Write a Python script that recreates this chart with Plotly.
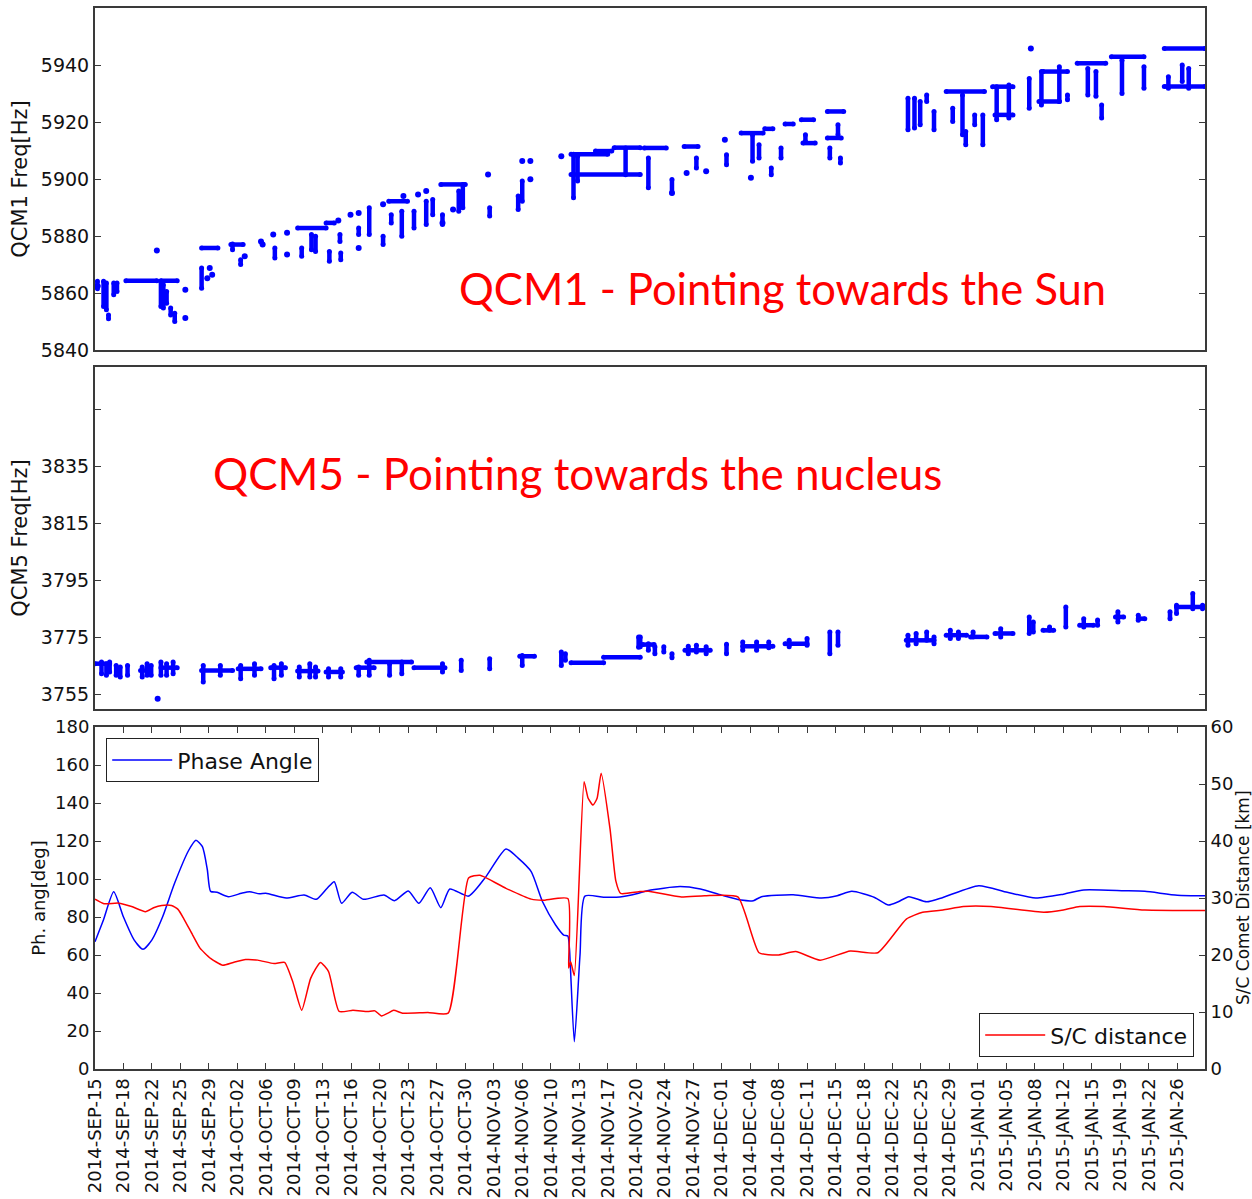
import pandas as pd
import plotly.graph_objects as go

START = pd.Timestamp("2014-09-15")
X_END_DAY = 136.4

# ---------------- bottom panel: phase angle (deg) and S/C distance (km) -------------
PHASE_DAY = [0.0, 1.0, 2.3, 3.5, 4.8, 5.9, 7.0, 8.3, 9.8, 11.5, 12.4, 13.2, 13.8, 14.2,
             15.0, 16.4, 18.0, 19.0, 20.2, 21.0, 23.5, 25.7, 27.2, 28.5, 29.4, 30.3, 31.6,
             33.0, 35.5, 36.8, 38.5, 39.8, 41.2, 42.5, 43.6, 45.9, 48.0, 50.5, 52.0, 53.6,
             55.0, 56.6, 57.6, 58.1, 58.3, 58.9, 59.6, 60.2, 62.5, 64.5, 66.8, 68.0, 71.9,
             74.4, 77.0, 79.4, 80.9, 81.9, 85.8, 89.3, 91.2, 93.0, 95.8, 97.5, 98.7, 100.0,
             102.2, 104.2, 108.6, 112.1, 115.6, 119.0, 121.5, 126.5, 129.0, 133.0, 136.4]
PHASE_DEG = [67.0, 78.0, 93.3, 80.0, 68.0, 63.0, 68.0, 80.0, 98.0, 115.0, 120.4, 117.0, 105.0, 93.5,
             93.0, 90.7, 92.5, 93.3, 92.2, 92.5, 90.0, 91.6, 89.3, 95.0, 98.6, 87.2, 93.0,
             89.3, 91.6, 88.6, 93.7, 87.2, 95.4, 84.9, 94.7, 91.0, 101.0, 115.8, 111.0, 103.9,
             88.0, 75.8, 70.5, 70.0, 63.5, 14.4, 60.0, 91.0, 90.4, 90.5, 92.5, 94.0, 96.0,
             94.7, 91.5, 88.9, 88.6, 90.7, 91.7, 90.0, 91.2, 93.5, 90.3, 86.3, 88.0, 90.7,
             88.0, 90.3, 96.5, 93.0, 90.0, 92.0, 94.2, 93.8, 93.5, 91.5, 91.2]

DIST_DAY = [0.0, 1.1, 2.9, 4.5, 6.2, 7.2, 8.2, 9.4, 10.2, 10.9, 12.0, 12.9, 14.2, 15.7,
            17.0, 18.5, 20.0, 22.0, 23.3, 24.3, 25.4, 26.5, 27.7, 28.7, 30.0, 31.7, 33.5,
            34.4, 35.2, 36.0, 36.7, 37.8, 40.9, 43.4, 45.9, 47.3, 50.5, 53.6, 55.0, 58.1,
            58.2, 58.45, 58.9, 60.1, 60.6, 61.2, 61.7, 62.2, 63.3, 64.0, 64.6, 66.8, 68.0,
            71.9, 74.9, 79.0, 81.6, 83.9, 86.1, 89.1, 92.8, 96.2, 99.7, 101.7, 104.2, 106.7,
            110.1, 116.6, 119.0, 121.0, 124.0, 129.0, 136.4]
DIST_KM = [29.8, 29.0, 29.1, 28.5, 27.6, 28.3, 28.7, 28.7, 28.0, 26.4, 23.5, 21.2, 19.4, 18.2,
           18.7, 19.2, 19.1, 18.5, 18.7, 15.3, 10.3, 15.9, 18.7, 17.1, 10.1, 10.3, 10.1,
           10.2, 9.3, 9.8, 10.3, 9.8, 9.9, 9.8, 33.5, 34.0, 31.7, 29.8, 29.6, 29.9,
           17.7, 18.8, 16.4, 50.4, 47.5, 46.3, 47.5, 51.9, 42.0, 33.0, 30.8, 31.1, 31.2,
           30.2, 30.4, 30.2, 20.4, 20.0, 20.6, 19.1, 20.7, 20.4, 26.3, 27.5, 27.9, 28.5,
           28.5, 27.5, 27.9, 28.5, 28.5, 27.9, 27.8]

# ---------------- top panel: QCM1 frequency (Hz) ----------------
QCM1_BAND_START = [0.0, 3.8, 8.1, 13.1, 16.7, 24.9, 28.4, 36.1, 42.5, 58.5, 58.5, 61.5, 63.8,
                   67.5, 72.4, 79.4, 82.3, 84.8, 86.8, 87.0, 90.0, 90.0, 104.6, 110.3, 110.6,
                   116.0, 116.5, 120.7, 124.9, 131.4, 131.4]
QCM1_BAND_END = [0.4, 7.6, 10.1, 15.1, 18.2, 28.4, 29.4, 38.4, 45.5, 63.0, 67.0, 63.5, 67.0,
                 70.2, 74.1, 82.1, 83.3, 85.8, 88.3, 88.5, 92.0, 91.7, 109.3, 112.8, 112.8,
                 118.5, 119.5, 124.2, 128.9, 136.4, 136.4]
QCM1_BAND_FREQ = [5862.5, 5864.3, 5864.3, 5875.8, 5877.0, 5882.8, 5884.6, 5892.2, 5898.1, 5908.7,
                  5901.6, 5909.8, 5911.0, 5910.9, 5911.4, 5916.1, 5917.6, 5919.3, 5920.8, 5912.6,
                  5923.7, 5914.4, 5930.7, 5932.4, 5922.5, 5927.2, 5937.7, 5940.6, 5942.9,
                  5945.8, 5932.5]

QCM1_SPREAD_DAY = [0.3, 1.05, 1.4, 1.66, 2.3, 2.7, 8.1, 8.4, 8.8, 9.3, 9.8, 13.1, 16.9, 17.9,
                   22.1, 25.4, 26.6, 27.1, 28.8, 30.1, 30.2, 32.4, 33.7, 35.4, 36.4, 37.7,
                   39.2, 40.7, 41.5, 42.7, 44.7, 45.2, 48.5, 52.0, 52.5, 58.8, 59.3, 65.2,
                   68.0, 70.9, 73.9, 77.6, 80.8, 81.6, 83.1, 84.3, 87.3, 90.3, 91.3, 91.6,
                   99.9, 100.7, 101.4, 102.2, 103.1, 105.4, 106.6, 107.0, 108.1, 109.1, 110.8,
                   112.3, 114.8, 116.3, 118.5, 119.5, 122.0, 123.0, 123.7, 126.2, 128.9,
                   131.9, 133.6, 134.4]
QCM1_SPREAD_LO = [5861.5, 5855.3, 5854.1, 5851.0, 5859.4, 5860.5, 5855.3, 5854.7, 5856.4, 5852.3,
                  5850.0, 5861.7, 5875.2, 5870.0, 5872.3, 5872.9, 5875.2, 5874.6, 5871.1,
                  5878.1, 5871.7, 5880.5, 5880.5, 5877.0, 5884.6, 5879.9, 5882.8, 5884.0,
                  5887.5, 5884.0, 5888.7, 5889.9, 5887.0, 5889.3, 5892.2, 5893.4, 5899.3,
                  5901.5, 5896.9, 5895.1, 5903.9, 5905.0, 5906.2, 5907.4, 5901.5, 5907.4,
                  5913.2, 5907.4, 5915.5, 5905.6, 5917.3, 5917.9, 5919.0, 5927.2, 5917.3,
                  5920.2, 5915.5, 5912.0, 5919.0, 5912.0, 5920.8, 5921.4, 5924.8, 5926.0,
                  5927.2, 5927.8, 5929.5, 5929.0, 5921.4, 5930.0, 5931.8, 5931.8, 5934.2,
                  5931.8]
QCM1_SPREAD_HI = [5864.1, 5864.1, 5863.5, 5852.3, 5863.5, 5863.5, 5864.1, 5862.9, 5860.5, 5854.7,
                  5852.9, 5868.8, 5877.2, 5871.7, 5875.8, 5875.8, 5880.5, 5879.9, 5874.6,
                  5880.5, 5874.0, 5882.8, 5889.9, 5879.9, 5887.5, 5888.7, 5888.7, 5892.2,
                  5892.8, 5887.5, 5895.8, 5898.1, 5889.9, 5894.0, 5899.3, 5908.7, 5908.0,
                  5910.9, 5907.4, 5899.8, 5907.4, 5908.5, 5915.5, 5912.0, 5903.9, 5910.9,
                  5915.5, 5910.9, 5919.0, 5907.4, 5928.3, 5928.3, 5927.2, 5929.5, 5923.7,
                  5924.8, 5929.5, 5916.7, 5922.5, 5922.5, 5932.4, 5933.0, 5935.3, 5937.7,
                  5939.4, 5929.5, 5938.8, 5937.7, 5926.0, 5941.7, 5939.4, 5935.9, 5940.0,
                  5938.8]

QCM1_DOT_DAY = [7.6, 11.1, 11.1, 13.8, 14.1, 14.4, 18.4, 20.4, 20.6, 21.9, 23.6, 23.6, 29.9,
                31.4, 32.4, 32.4, 35.4, 37.9, 39.7, 40.7, 42.7, 44.0, 48.3, 52.5, 53.5, 53.5,
                57.3, 70.9, 72.7, 75.1, 77.4, 80.6, 115.0]
QCM1_DOT_FREQ = [5874.9, 5861.1, 5851.2, 5865.2, 5868.8, 5866.4, 5872.9, 5878.1, 5877.0, 5880.5,
                 5881.1, 5873.5, 5885.4, 5887.5, 5888.1, 5875.8, 5891.1, 5894.0, 5894.6, 5895.8,
                 5884.6, 5889.3, 5901.6, 5906.3, 5906.3, 5899.9, 5908.0, 5895.1, 5902.1,
                 5902.7, 5913.8, 5900.4, 5945.8]

# ---------------- middle panel: QCM5 frequency (Hz) ----------------
QCM5_BAND_START = [0.0, 5.6, 8.1, 13.1, 17.6, 21.6, 24.9, 28.4, 32.1, 33.4, 39.2, 52.2, 58.5,
                   62.5, 67.3, 72.5, 79.6, 84.8, 99.7, 104.6, 107.6, 110.6, 116.5, 121.0,
                   125.4, 128.2, 132.9]
QCM5_BAND_END = [1.8, 6.6, 10.1, 16.9, 20.4, 23.4, 27.4, 30.4, 34.3, 38.9, 43.0, 54.0, 62.5,
                 67.0, 68.7, 75.6, 83.3, 87.5, 103.1, 107.1, 109.6, 112.8, 117.8, 122.7,
                 126.4, 129.0, 136.4]
QCM5_BAND_FREQ = [3765.9, 3763.5, 3764.5, 3763.5, 3764.1, 3764.5, 3763.3, 3763.0, 3764.5, 3766.5,
                  3764.5, 3768.5, 3766.2, 3768.2, 3772.6, 3770.6, 3772.0, 3772.9, 3774.1,
                  3775.9, 3775.3, 3776.5, 3777.6, 3779.4, 3782.3, 3781.7, 3785.8]

QCM5_SPREAD_DAY = [0.8, 1.4, 1.8, 2.6, 3.1, 4.0, 5.8, 6.4, 6.9, 8.1, 8.8, 9.6, 13.3, 15.4,
                   17.9, 19.6, 22.0, 22.9, 25.1, 26.4, 27.1, 28.7, 30.2, 32.4, 33.7, 36.2,
                   37.7, 42.7, 45.0, 48.5, 52.5, 57.3, 57.8, 66.8, 67.0, 68.0, 68.8, 69.9,
                   70.9, 72.9, 73.9, 75.1, 77.6, 79.6, 81.3, 82.8, 85.3, 87.5, 90.3, 91.3,
                   99.9, 100.9, 102.2, 103.1, 105.1, 106.1, 107.9, 111.3, 114.8, 115.3, 117.3,
                   119.3, 121.5, 123.2, 125.7, 128.2, 132.1, 132.9, 134.9, 136.1]
QCM5_SPREAD_LO = [3762.4, 3761.8, 3763.0, 3761.8, 3761.2, 3761.8, 3761.2, 3761.8, 3761.8, 3761.8,
                  3761.8, 3762.4, 3759.5, 3761.8, 3760.6, 3761.8, 3760.6, 3761.8, 3761.2,
                  3761.2, 3761.2, 3761.2, 3761.2, 3761.8, 3761.8, 3761.8, 3762.4, 3763.0,
                  3763.5, 3764.1, 3765.3, 3765.3, 3767.1, 3771.7, 3771.8, 3770.6, 3769.4,
                  3770.0, 3768.0, 3769.4, 3770.0, 3769.4, 3769.4, 3770.6, 3770.6, 3771.5,
                  3771.8, 3772.4, 3769.4, 3772.4, 3772.4, 3772.9, 3774.1, 3772.9, 3774.7,
                  3774.7, 3775.3, 3775.3, 3776.5, 3777.0, 3777.6, 3778.8, 3778.8, 3779.4,
                  3780.5, 3781.1, 3781.7, 3783.5, 3785.2, 3785.2]
QCM5_SPREAD_HI = [3766.5, 3765.9, 3766.5, 3765.3, 3764.7, 3765.3, 3764.7, 3765.9, 3765.3, 3766.5,
                  3765.9, 3766.5, 3765.3, 3765.3, 3765.3, 3765.9, 3765.3, 3765.9, 3764.7,
                  3765.9, 3764.7, 3764.1, 3764.1, 3764.7, 3767.1, 3765.9, 3766.5, 3765.9,
                  3767.1, 3767.6, 3768.8, 3770.0, 3769.4, 3775.3, 3775.3, 3772.9, 3771.8,
                  3771.8, 3769.4, 3772.0, 3772.4, 3771.8, 3772.7, 3773.5, 3773.5, 3773.5,
                  3774.1, 3774.7, 3777.0, 3777.0, 3775.9, 3776.5, 3777.0, 3775.3, 3777.6,
                  3777.0, 3777.0, 3778.2, 3782.3, 3780.5, 3778.8, 3785.8, 3781.7, 3781.2,
                  3784.1, 3782.9, 3784.1, 3786.4, 3790.5, 3786.4]

QCM5_DOT_DAY = [7.7]
QCM5_DOT_FREQ = [3753.6]

# ---------------- axis ticks ----------------
TICK_LABELS = ["2014-SEP-15", "2014-SEP-18", "2014-SEP-22", "2014-SEP-25", "2014-SEP-29",
               "2014-OCT-02", "2014-OCT-06", "2014-OCT-09", "2014-OCT-13", "2014-OCT-16",
               "2014-OCT-20", "2014-OCT-23", "2014-OCT-27", "2014-OCT-30", "2014-NOV-03",
               "2014-NOV-06", "2014-NOV-10", "2014-NOV-13", "2014-NOV-17", "2014-NOV-20",
               "2014-NOV-24", "2014-NOV-27", "2014-DEC-01", "2014-DEC-04", "2014-DEC-08",
               "2014-DEC-11", "2014-DEC-15", "2014-DEC-18", "2014-DEC-22", "2014-DEC-25",
               "2014-DEC-29", "2015-JAN-01", "2015-JAN-05", "2015-JAN-08", "2015-JAN-12",
               "2015-JAN-15", "2015-JAN-19", "2015-JAN-22", "2015-JAN-26"]
TICK_STEP_DAYS = 3.5
QCM1_TICKS = [5840, 5860, 5880, 5900, 5920, 5940]
QCM5_TICKS = [3755, 3775, 3795, 3815, 3835, 3855]
QCM5_TICK_TEXT = ["3755", "3775", "3795", "3815", "3835", ""]
PHASE_TICKS = [0, 20, 40, 60, 80, 100, 120, 140, 160, 180]
DIST_TICKS = [0, 10, 20, 30, 40, 50, 60]

BLUE = "#0000ff"
RED = "#ff0000"
AX = "#3a3a3a"
FONT = "DejaVu Sans"


def to_dates(days):
    return [START + pd.Timedelta(days=float(d)) for d in days]


def clusters(b0, b1, bf, sd, slo, shi):
    xs, ys = [], []
    for a, b, f in zip(b0, b1, bf):
        xs += [a, b, None]
        ys += [f, f, None]
    for d, lo, hi in zip(sd, slo, shi):
        xs += [d, d, None]
        ys += [lo, hi, None]
    xd = [START + pd.Timedelta(days=v) if v is not None else None for v in xs]
    return xd, ys


fig = go.Figure()

for (b0, b1, bf, sd, slo, shi, dd, df, xa, ya) in [
    (QCM1_BAND_START, QCM1_BAND_END, QCM1_BAND_FREQ, QCM1_SPREAD_DAY, QCM1_SPREAD_LO,
     QCM1_SPREAD_HI, QCM1_DOT_DAY, QCM1_DOT_FREQ, "x", "y"),
    (QCM5_BAND_START, QCM5_BAND_END, QCM5_BAND_FREQ, QCM5_SPREAD_DAY, QCM5_SPREAD_LO,
     QCM5_SPREAD_HI, QCM5_DOT_DAY, QCM5_DOT_FREQ, "x2", "y2"),
]:
    cx, cy = clusters(b0, b1, bf, sd, slo, shi)
    fig.add_trace(go.Scatter(x=cx, y=cy, mode="lines+markers", connectgaps=False,
                             line=dict(color=BLUE, width=4.5), marker=dict(color=BLUE, size=5),
                             xaxis=xa, yaxis=ya, showlegend=False, hoverinfo="skip"))
    fig.add_trace(go.Scatter(x=to_dates(dd), y=df, mode="markers",
                             marker=dict(color=BLUE, size=6), xaxis=xa, yaxis=ya,
                             showlegend=False))

fig.add_trace(go.Scatter(x=to_dates(PHASE_DAY), y=PHASE_DEG, mode="lines", name="Phase Angle",
                         line=dict(color=BLUE, width=1.5, shape="spline", smoothing=0.6),
                         xaxis="x3", yaxis="y3", legend="legend"))
fig.add_trace(go.Scatter(x=to_dates(DIST_DAY), y=DIST_KM, mode="lines", name="S/C distance",
                         line=dict(color=RED, width=1.5, shape="spline", smoothing=0.5),
                         xaxis="x3", yaxis="y4", legend="legend2"))

x_range = [START.isoformat(), (START + pd.Timedelta(days=X_END_DAY)).isoformat()]
tick_dates = [(START + pd.Timedelta(days=TICK_STEP_DAYS * i)).isoformat()
              for i in range(len(TICK_LABELS))]

base_x = dict(range=x_range, type="date", showgrid=False, zeroline=False, showline=True,
              linecolor=AX, linewidth=2, automargin=False)


def base_y(size):
    return dict(showgrid=False, zeroline=False, showline=True, linecolor=AX, linewidth=2,
                ticks="inside", ticklen=6, tickcolor=AX, tickwidth=1,
                tickfont=dict(family=FONT, size=size, color="#111"), automargin=False)


H, T, B = 1199, 8, 130
plot_h = H - T - B


def dom(top_px, bot_px):
    return [(H - B - bot_px) / plot_h, (H - B - top_px) / plot_h]


fig.update_layout(
    width=1252, height=1199,
    margin=dict(l=95, r=47, t=T, b=B, autoexpand=False),
    paper_bgcolor="white", plot_bgcolor="white",
    font=dict(family=FONT, color="#111"),
    xaxis=dict(**base_x, anchor="y", domain=[0, 1], mirror=True, ticks="", showticklabels=False),
    xaxis2=dict(**base_x, anchor="y2", domain=[0, 1], mirror=True, ticks="", showticklabels=False),
    xaxis3=dict(**base_x, anchor="y3", domain=[0, 1], mirror="ticks", ticks="inside", ticklen=6,
                tickcolor=AX, tickvals=tick_dates, ticktext=TICK_LABELS, tickangle=-90,
                tickfont=dict(family=FONT, size=18, color="#111")),
    yaxis=dict(**base_y(19), anchor="x", domain=dom(8, 350), range=[5840, 5960], mirror="ticks",
               tickvals=QCM1_TICKS,
               title=dict(text="QCM1 Freq[Hz]", font=dict(family=FONT, size=21), standoff=7)),
    yaxis2=dict(**base_y(19), anchor="x2", domain=dom(367, 709), range=[3750, 3870],
                mirror="ticks", tickvals=QCM5_TICKS, ticktext=QCM5_TICK_TEXT,
                title=dict(text="QCM5 Freq[Hz]", font=dict(family=FONT, size=21), standoff=7)),
    yaxis3=dict(**base_y(18), anchor="x3", domain=dom(727, 1069), range=[0, 180], mirror=False,
                tickvals=PHASE_TICKS,
                title=dict(text="Ph. ang[deg]", font=dict(family=FONT, size=18), standoff=5)),
    yaxis4=dict(**base_y(18), anchor="x3", overlaying="y3", side="right", range=[0, 60],
                tickvals=DIST_TICKS),
    legend=dict(x=(106 - 95) / 1110, y=(1069 - 738) / plot_h, xanchor="left", yanchor="top",
                bgcolor="white", bordercolor="#222", borderwidth=1.2, itemwidth=60,
                font=dict(family=FONT, size=22, color="#111")),
    legend2=dict(x=(1194 - 95) / 1110, y=(1069 - 1057) / plot_h, xanchor="right",
                 yanchor="bottom", bgcolor="white", bordercolor="#222", borderwidth=1.2,
                 itemwidth=60, font=dict(family=FONT, size=22, color="#111")),
    annotations=[
        dict(text="QCM1 - Pointing towards the Sun", xref="paper", yref="paper",
             x=(457 - 95) / 1110, y=(1069 - 288) / plot_h, xanchor="left", yanchor="middle",
             showarrow=False, font=dict(family="Lato", size=43.5, color=RED)),
        dict(text="QCM5 - Pointing towards the nucleus", xref="paper", yref="paper",
             x=(211 - 95) / 1110, y=(1069 - 473) / plot_h, xanchor="left", yanchor="middle",
             showarrow=False, font=dict(family="Lato", size=44, color=RED)),
        dict(text="S/C Comet Distance [km]", xref="paper", yref="paper",
             x=(1243 - 95) / 1110, y=(1069 - 898) / plot_h, xanchor="center", yanchor="middle",
             textangle=-90, showarrow=False, font=dict(family=FONT, size=17, color="#111")),
    ],
)

fig.write_html("out.html")
